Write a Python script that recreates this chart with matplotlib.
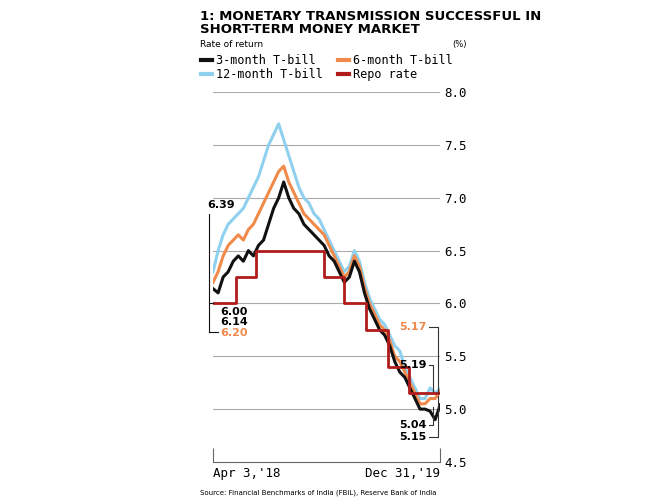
import numpy as np
import pandas as pd
import matplotlib.pyplot as plt
import matplotlib.dates as mdates

# biweekly readings, Apr 3 2018 .. Dec 31 2019
dates = pd.date_range("2018-04-03", "2019-12-31", periods=46)
tbill_3m = [6.14, 6.10, 6.25, 6.30, 6.40, 6.45, 6.40, 6.50, 6.45, 6.55, 6.60, 6.75, 6.90, 7.00, 7.15, 7.00,
            6.90, 6.85, 6.75, 6.70, 6.65, 6.60, 6.55, 6.45, 6.40, 6.30, 6.20, 6.25, 6.40, 6.30, 6.10, 5.95,
            5.85, 5.75, 5.70, 5.60, 5.45, 5.35, 5.30, 5.20, 5.10, 5.00, 5.00, 4.98, 4.90, 5.04]
tbill_6m = [6.20, 6.30, 6.45, 6.55, 6.60, 6.65, 6.60, 6.70, 6.75, 6.85, 6.95, 7.05, 7.15, 7.25, 7.30, 7.15,
            7.05, 6.95, 6.85, 6.80, 6.75, 6.70, 6.65, 6.55, 6.45, 6.35, 6.25, 6.30, 6.45, 6.35, 6.15, 6.00,
            5.90, 5.80, 5.75, 5.65, 5.50, 5.45, 5.35, 5.25, 5.15, 5.05, 5.05, 5.10, 5.10, 5.17]
tbill_12m = [6.30, 6.50, 6.65, 6.75, 6.80, 6.85, 6.90, 7.00, 7.10, 7.20, 7.35, 7.50, 7.60, 7.70, 7.55, 7.40,
             7.25, 7.10, 7.00, 6.95, 6.85, 6.80, 6.70, 6.60, 6.50, 6.40, 6.30, 6.35, 6.50, 6.40, 6.20, 6.05,
             5.95, 5.85, 5.80, 5.70, 5.60, 5.55, 5.40, 5.30, 5.20, 5.10, 5.10, 5.20, 5.15, 5.19]
repo_dates = pd.to_datetime(["2018-04-03", "2018-06-06", "2018-08-01", "2019-02-07", "2019-04-04",
                             "2019-06-06", "2019-08-07", "2019-10-04", "2019-12-31"])
repo_rate = [6.00, 6.25, 6.50, 6.25, 6.00, 5.75, 5.40, 5.15, 5.15]
yticks = [4.5, 5.0, 5.5, 6.0, 6.5, 7.0, 7.5, 8.0]

c3, c6, c12, crepo = "#111111", "#f08a4b", "#8fd0ee", "#b01c1c"

fig = plt.figure(figsize=(6.7, 5.01), dpi=100)
ax = fig.add_axes([0.318, 0.078, 0.339, 0.738])
ax.set_ylim(4.5, 8.0)
ax.set_xlim(dates[0], dates[-1])
for t in yticks[1:]:
    ax.axhline(t, color="#aaaaaa", lw=0.8, zorder=0)
ax.plot(dates, tbill_12m, color=c12, lw=2.2)
ax.plot(dates, tbill_6m, color=c6, lw=2.2)
ax.plot(dates, tbill_3m, color=c3, lw=2.2)
ax.step(repo_dates, repo_rate, where="post", color=crepo, lw=2)

for s in ["top", "left", "right"]:
    ax.spines[s].set_visible(False)
ax.spines["bottom"].set_color("#666666")
ax.set_xticks([dates[0], dates[-1]])
ax.set_xticklabels(["Apr 3,'18", "Dec 31,'19"], fontsize=9, family="DejaVu Sans Mono")
ax.get_xticklabels()[0].set_ha("left")
ax.get_xticklabels()[1].set_ha("right")
ax.tick_params(axis="x", length=10, direction="in", color="#666666", pad=4)
ax.yaxis.tick_right()
ax.set_yticks(yticks)
ax.set_yticklabels([f"{t:.1f}" for t in yticks], fontsize=9, family="DejaVu Sans Mono")
ax.tick_params(axis="y", length=0, pad=3)

# value callouts
tr = ax.get_yaxis_transform()
ax.text(-0.025, 6.93, "6.39", transform=tr, fontsize=8, weight="bold", va="center")
ax.plot([-0.02, -0.02, 0.0], [6.85, 6.00, 6.00], transform=tr, color=c3, lw=0.8, clip_on=False)
ax.plot([-0.02, 0.02], [5.73, 5.73], transform=tr, color=c3, lw=0.8, clip_on=False)
ax.plot([-0.02, -0.02], [6.0, 5.73], transform=tr, color=c3, lw=0.8, clip_on=False)
ax.text(0.03, 5.92, "6.00", transform=tr, fontsize=8, weight="bold", va="center")
ax.text(0.03, 5.82, "6.14", transform=tr, fontsize=8, weight="bold", va="center")
ax.text(0.03, 5.72, "6.20", transform=tr, fontsize=8, weight="bold", va="center", color=c6)
ax.plot([0.95, 0.99, 0.99], [5.78, 5.78, 5.15], transform=tr, color="#333333", lw=0.8)
ax.text(0.94, 5.78, "5.17", transform=tr, fontsize=8, weight="bold", va="center", ha="right", color=c6)
ax.plot([0.95, 0.97, 0.97], [5.42, 5.42, 5.17], transform=tr, color="#333333", lw=0.8)
ax.text(0.94, 5.42, "5.19", transform=tr, fontsize=8, weight="bold", va="center", ha="right")
ax.text(0.94, 4.85, "5.04", transform=tr, fontsize=8, weight="bold", va="center", ha="right")
ax.text(0.94, 4.74, "5.15", transform=tr, fontsize=8, weight="bold", va="center", ha="right")
ax.plot([0.95, 0.97, 0.97], [4.85, 4.85, 5.02], transform=tr, color="#333333", lw=0.8)
ax.plot([0.95, 0.99, 0.99], [4.74, 4.74, 5.12], transform=tr, color="#333333", lw=0.8)

fig.text(0.298, 0.955, "1: MONETARY TRANSMISSION SUCCESSFUL IN\nSHORT-TERM MONEY MARKET",
         fontsize=9.5, weight="bold", va="center", linespacing=1.0)
fig.text(0.298, 0.912, "Rate of return", fontsize=6.5, va="center")
fig.text(0.675, 0.912, "(%)", fontsize=6, va="center")
legend = [("3-month T-bill", c3, 0.300, 0.88), ("6-month T-bill", c6, 0.505, 0.88),
          ("12-month T-bill", c12, 0.300, 0.852), ("Repo rate", crepo, 0.505, 0.852)]
for label, col, lx, ly in legend:
    fig.add_artist(plt.Line2D([lx, lx + 0.016], [ly, ly], color=col, lw=3, transform=fig.transFigure))
    fig.text(lx + 0.022, ly, label, fontsize=8.5, va="center", family="DejaVu Sans Mono")
fig.text(0.298, 0.012, "Source: Financial Benchmarks of India (FBIL), Reserve Bank of India",
         fontsize=5)

fig.savefig("out.png", dpi=100)
